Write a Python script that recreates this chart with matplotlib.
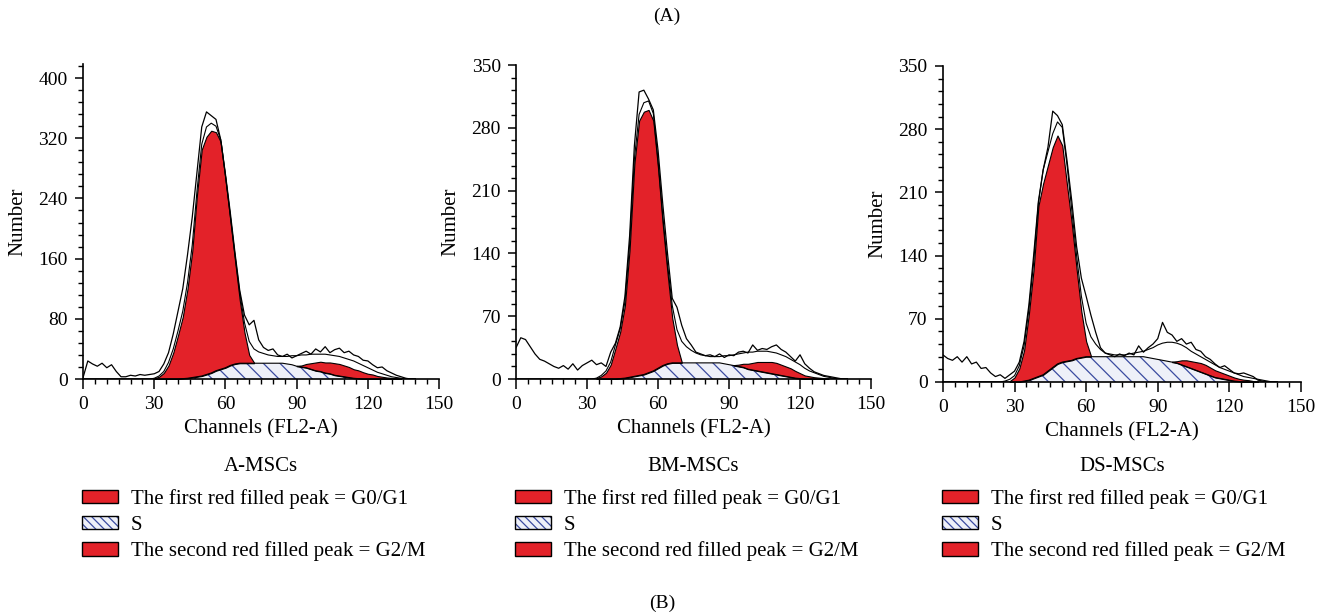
import numpy as np
import matplotlib.pyplot as plt
from matplotlib.patches import Patch
from matplotlib.legend_handler import HandlerTuple
from matplotlib.ticker import MultipleLocator

plt.rcParams['font.family'] = ['Liberation Serif', 'DejaVu Serif']
plt.rcParams['hatch.linewidth'] = 0.9

# channel grid (FL2-A), every 2 channels from 0 to 140
channels = np.arange(0, 142, 2)

# ---- A-MSCs ----
a_raw = [2, 24, 20, 17, 21, 15, 19, 10, 3, 3, 5, 4, 6, 5, 6, 7, 10, 20, 35, 60,
         90, 120, 165, 215, 275, 335, 355, 350, 345, 318, 272, 222, 168, 118, 85, 72, 78, 52, 42, 38,
         40, 32, 30, 33, 28, 31, 34, 37, 33, 40, 36, 43, 35, 39, 41, 35, 37, 32, 30, 25,
         24, 19, 15, 16, 11, 8, 5, 3, 1, 0, 0]
a_fit = [0] * 15 + [1, 4, 10, 22, 40, 64, 90, 128, 178, 250, 312, 335, 340, 336, 318, 270, 218, 165, 115, 75,
                    50, 40, 36, 34, 32, 31, 30, 30, 30, 31, 31, 32, 32, 33, 33, 33, 33, 32, 31, 30,
                    28, 26, 24, 21, 18, 15, 12, 9, 7, 5, 3, 2, 1, 0, 0, 0]
a_g1 = [0] * 15 + [1, 3, 8, 18, 35, 58, 82, 119, 168, 242, 301, 316, 322, 317, 302, 250, 194, 138, 84, 41,
                   11, 1] + [0] * 34
a_s = [0] * 21 + [0.5, 1, 2, 3, 4, 6, 8, 11, 13, 15, 18, 20, 21, 21, 21, 21, 21, 21, 21, 21,
                  21, 21, 20, 19, 17, 16, 15, 13, 11, 10, 8, 7, 5, 4, 3, 2, 1, 0.5] + [0] * 12
a_g2 = [0] * 45 + [0.5, 2, 5, 8, 11, 13, 14, 15, 16, 16, 15, 14, 12, 11, 9, 7, 6, 4, 3, 2,
                   1.5, 1, 0.5] + [0] * 3

# ---- BM-MSCs ----
bm_raw = [35, 46, 44, 36, 28, 22, 20, 17, 14, 12, 15, 11, 17, 10, 15, 18, 21, 16, 18, 14,
          30, 40, 58, 92, 160, 260, 320, 322, 312, 300, 255, 195, 140, 90, 80, 60, 45, 38, 30, 28,
          26, 27, 25, 28, 24, 27, 26, 30, 31, 29, 38, 32, 34, 33, 36, 38, 33, 30, 25, 20,
          27, 17, 12, 8, 6, 4, 3, 2, 1, 0, 0]
bm_fit = [0] * 17 + [1, 4, 9, 19, 38, 56, 86, 150, 245, 295, 308, 310, 296, 244, 182, 128, 82, 55, 42, 36,
                     32, 29, 27, 26, 25, 25, 25, 26, 26, 27, 28, 29, 30, 30, 31, 31, 31, 30, 29, 27,
                     25, 22, 19, 16, 12, 9, 7, 5, 3, 2, 1, 0, 0, 0]
bm_g1 = [0] * 17 + [1, 3, 7, 16, 34, 52, 81, 143, 237, 284, 293, 293, 279, 223, 157, 101, 50, 20, 1] + [0] * 35
bm_s = [0] * 22 + [0.5, 1, 2, 3, 4, 5, 7, 9, 12, 15, 17, 18, 18, 18, 18, 18, 18, 18, 18, 18,
                   18, 18, 17, 16, 15, 14, 13, 11, 10, 9, 8, 7, 6, 5, 4, 3, 2, 1, 0.5] + [0] * 10
bm_g2 = [0] * 46 + [0.5, 2, 4, 6, 8, 10, 11, 12, 13, 13, 12, 11, 10, 8, 6, 4, 3, 2, 1.5, 1,
                    0.5] + [0] * 4

# ---- DS-MSCs ----
ds_raw = [30, 26, 24, 28, 22, 28, 20, 22, 15, 16, 10, 6, 8, 4, 8, 12, 22, 45, 85, 140,
          200, 235, 260, 300, 295, 285, 245, 200, 150, 115, 95, 74, 55, 38, 32, 30, 28, 31, 29, 32,
          30, 40, 33, 38, 42, 48, 66, 55, 52, 45, 48, 42, 44, 36, 34, 28, 25, 20, 16, 18,
          14, 10, 9, 10, 8, 6, 2, 1, 0, 0, 0]
ds_fit = [0] * 13 + [1, 3, 7, 18, 40, 80, 132, 198, 235, 255, 275, 288, 282, 240, 190, 140, 95, 65, 50, 42,
                     36, 32, 31, 30, 30, 30, 31, 32, 33, 34, 36, 38, 41, 43, 44, 44, 43, 41, 38, 34,
                     31, 28, 25, 22, 19, 16, 14, 12, 10, 8, 6, 5, 4, 3, 2, 1, 0, 0]
ds_g1 = [0] * 14 + [1, 5, 15, 34, 73, 121, 189, 212, 228, 244, 253, 240, 195, 151, 99, 51, 17, 1] + [0] * 39
ds_s = [0] * 17 + [1, 2, 4, 6, 8, 12, 16, 20, 22, 23, 24, 26, 27, 28, 28, 28, 28, 28, 28, 28,
                   28, 28, 28, 28, 28, 28, 27, 26, 25, 24, 23, 22, 21, 19, 17, 15, 13, 11, 9, 7,
                   5, 4, 3, 2, 1, 0.5] + [0] * 8
ds_g2 = [0] * 48 + [0.5, 2, 5, 7, 8, 9, 10, 10, 9, 8, 7, 6, 5, 4, 3, 2.5, 2, 1, 0.5] + [0] * 4

names = ['A-MSCs', 'BM-MSCs', 'DS-MSCs']
legend_labels = ['The first red filled peak = G0/G1', 'S', 'The second red filled peak = G2/M']

red = '#e32229'
blue = '#3b4ba0'
hatch_bg = '#eef0f8'

panels = [
    (a_raw, a_fit, a_g1, a_s, a_g2, 418, 400, 80),
    (bm_raw, bm_fit, bm_g1, bm_s, bm_g2, 350, 350, 70),
    (ds_raw, ds_fit, ds_g1, ds_s, ds_g2, 350, 350, 70),
]
axes_pos = [[0.0625, 0.3847, 0.2679, 0.5106],
            [0.3883, 0.3847, 0.2671, 0.5097],
            [0.7095, 0.3799, 0.2694, 0.5130]]

fig = plt.figure(figsize=(13.29, 6.16), dpi=100)

for name, (raw, fit, g1, s, g2, ytop, ymax, step), pos in zip(names, panels, axes_pos):
    raw, fit, g1, s, g2 = map(np.array, (raw, fit, g1, s, g2))
    ax = fig.add_axes(pos)

    # S phase (hatched)
    ax.fill_between(channels, 0, s, facecolor=hatch_bg, edgecolor=blue,
                    hatch='\\\\', linewidth=0)
    ax.plot(channels, s, color='black', lw=0.8)
    # G0/G1 and G2/M peaks, stacked on top of S
    ax.fill_between(channels, s, s + g1, where=g1 > 0, facecolor=red,
                    edgecolor='black', linewidth=0.8)
    ax.fill_between(channels, s, s + g2, where=g2 > 0, facecolor=red,
                    edgecolor='black', linewidth=0.8)
    # fitted envelope and raw histogram
    ax.plot(channels, fit, color='black', lw=0.8)
    ax.plot(channels, raw, color='black', lw=0.9)

    ax.set_xlim(0, 150)
    ax.set_ylim(0, ytop)
    ax.set_xticks([0, 30, 60, 90, 120, 150])
    ax.xaxis.set_minor_locator(MultipleLocator(5))
    ax.set_yticks(np.arange(0, ymax + 1, step))
    ax.yaxis.set_minor_locator(MultipleLocator(step / 5))
    ax.tick_params(which='major', length=7, width=1.1, labelsize=14, pad=5)
    ax.tick_params(axis='y', which='major', length=6)
    ax.tick_params(which='minor', length=3.5, width=1.0)
    for sp in ['top', 'right']:
        ax.spines[sp].set_visible(False)
    for sp in ['left', 'bottom']:
        ax.spines[sp].set_linewidth(1.2)
    ax.set_xlabel('Channels (FL2-A)', fontsize=15, labelpad=5)
    ax.set_ylabel('Number', fontsize=15, labelpad=8)

    cx = pos[0] + pos[2] / 2
    fig.text(cx, 0.243, name, ha='center', va='center', fontsize=15)

    handles = [Patch(facecolor=red, edgecolor='black', lw=1),
               (Patch(facecolor=hatch_bg, edgecolor=blue, hatch='\\\\\\\\', lw=0),
                Patch(facecolor='none', edgecolor='black', lw=1)),
               Patch(facecolor=red, edgecolor='black', lw=1)]
    fig.legend(handles, legend_labels, loc='upper left',
               bbox_to_anchor=(pos[0] - 0.001, 0.2065), frameon=False,
               fontsize=15, borderpad=0, borderaxespad=0,
               handlelength=1.75, handleheight=0.6, handletextpad=0.6,
               labelspacing=0.33, handler_map={tuple: HandlerTuple(ndivide=1)})

fig.text(667 / 1329, 1 - 16 / 616, '(A)', ha='center', va='center', fontsize=14)
fig.text(662 / 1329, 1 - 603 / 616, '(B)', ha='center', va='center', fontsize=14)

fig.savefig('out.png', dpi=100)
